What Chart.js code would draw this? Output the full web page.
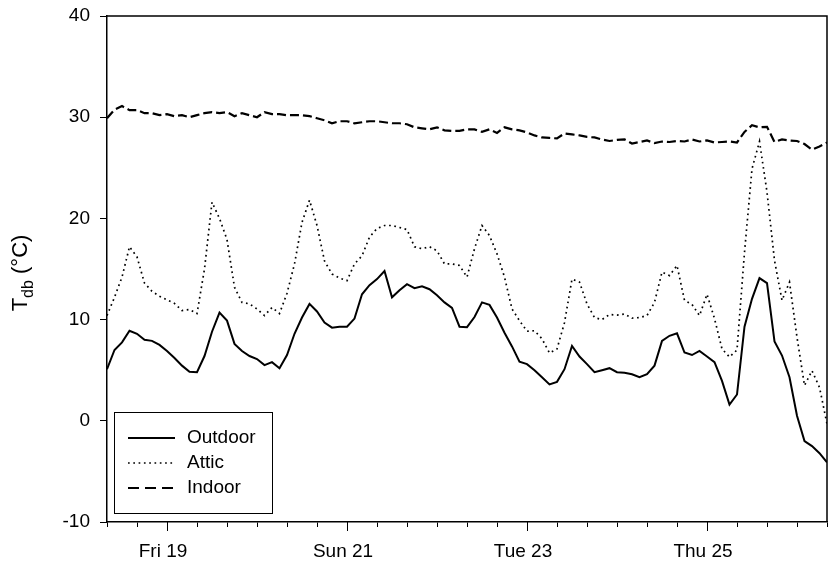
<!DOCTYPE html>
<html>
<head>
<meta charset="utf-8">
<title>Tdb</title>
<script src="https://cdn.jsdelivr.net/npm/chart.js@4.4.1/dist/chart.umd.min.js"></script>
<style>
  html, body { margin: 0; padding: 0; background: #fff; }
  #wrap { width: 833px; height: 566px; }
</style>
</head>
<body>
<div id="wrap"><canvas id="chart" width="833" height="566"></canvas></div>
<script>
// hours since Thu 18 08:00, one reading every 2 h
const hours = Array.from({ length: 97 }, (_, i) => i * 2);

const outdoor = [
  5.1, 7.0, 7.75, 8.9, 8.6, 8.0, 7.9, 7.5, 6.9, 6.2, 5.45, 4.85, 4.8, 6.4, 8.8, 10.7, 9.9, 7.6, 6.9, 6.4, 6.1, 5.5, 5.8, 5.2,
  6.5, 8.6, 10.2, 11.55, 10.8, 9.7, 9.2, 9.3, 9.3, 10.1, 12.5, 13.4, 14.0, 14.8, 12.2, 12.9, 13.5, 13.1, 13.3, 13.0, 12.4, 11.7, 11.15, 9.3,
  9.25, 10.25, 11.7, 11.45, 10.2, 8.7, 7.35, 5.85, 5.6, 5.0, 4.3, 3.6, 3.85, 5.1, 7.4, 6.35, 5.6, 4.8, 5.0, 5.2, 4.8, 4.75, 4.6, 4.3,
  4.6, 5.45, 7.9, 8.4, 8.65, 6.75, 6.5, 6.9, 6.35, 5.8, 3.95, 1.6, 2.6, 9.3, 12.05, 14.1, 13.6, 7.85, 6.45, 4.3, 0.5, -2.0, -2.5, -3.2, -4.1
];

const attic = [
  10.4, 12.2, 14.2, 17.2, 16.2, 13.6, 12.8, 12.3, 11.95, 11.6, 10.9, 11.0, 10.6, 15.0, 21.6, 20.0, 17.9, 13.2, 11.7, 11.55, 11.05, 10.4, 11.2, 10.6,
  12.6, 15.5, 19.6, 21.8, 19.3, 15.8, 14.5, 14.1, 13.85, 15.5, 16.3, 18.15, 19.0, 19.3, 19.3, 19.1, 18.9, 17.2, 17.0, 17.2, 16.8, 15.5, 15.5, 15.35,
  14.2, 17.0, 19.3, 18.3, 16.5, 14.2, 11.05, 9.9, 8.85, 8.9, 8.1, 6.7, 7.1, 9.7, 14.0, 13.7, 11.55, 10.2, 10.0, 10.5, 10.45, 10.55, 10.15, 10.2,
  10.4, 11.7, 14.7, 14.35, 15.35, 11.9, 11.5, 10.4, 12.5, 10.1, 7.1, 6.3, 7.0, 16.65, 24.9, 27.6, 22.6, 15.85, 11.9, 13.7, 8.25, 3.5, 4.95, 3.3, -0.3
];

const indoor = [
  29.9, 30.75, 31.1, 30.7, 30.7, 30.4, 30.4, 30.2, 30.3, 30.1, 30.2, 30.0, 30.2, 30.4, 30.5, 30.4, 30.5, 30.1, 30.4, 30.2, 30.0, 30.5, 30.3, 30.3,
  30.2, 30.2, 30.2, 30.1, 29.9, 29.7, 29.4, 29.6, 29.6, 29.4, 29.5, 29.6, 29.6, 29.5, 29.4, 29.4, 29.3, 29.0, 28.9, 28.8, 29.0, 28.7, 28.65, 28.65,
  28.8, 28.8, 28.55, 28.8, 28.45, 29.0, 28.8, 28.7, 28.5, 28.2, 28.0, 27.95, 27.9, 28.4, 28.3, 28.2, 28.05, 28.0, 27.8, 27.65, 27.75, 27.8, 27.4, 27.55,
  27.7, 27.45, 27.6, 27.55, 27.65, 27.6, 27.8, 27.6, 27.7, 27.5, 27.55, 27.6, 27.5, 28.55, 29.2, 29.0, 29.05, 27.55, 27.8, 27.7, 27.65, 27.35, 26.8, 27.1, 27.5
];

// x ticks every 8 h, labels on every second day at midnight
const xTickHours = [0, 8, 16, 24, 32, 40, 48, 56, 64, 72, 80, 88, 96, 104, 112, 120, 128, 136, 144, 152, 160, 168, 176, 184, 192];
const dayLabels = { 16: 'Fri 19', 64: 'Sun 21', 112: 'Tue 23', 160: 'Thu 25' };
const yTicks = [-10, 0, 10, 20, 30, 40];

const FONT = 'Arial, "Liberation Sans", sans-serif';
Chart.defaults.font.family = FONT;
Chart.defaults.color = '#000';

const toXY = arr => arr.map((v, i) => ({ x: hours[i], y: v }));

// box round the plot + longer ticks under the day labels
const framePlugin = {
  id: 'frame',
  afterDraw(chart) {
    const { ctx, chartArea: a } = chart;
    const xs = chart.scales.x;
    ctx.save();
    ctx.strokeStyle = '#000';
    ctx.lineWidth = 1.5;
    ctx.beginPath();
    ctx.moveTo(a.left, a.top);
    ctx.lineTo(a.right, a.top);
    ctx.lineTo(a.right, a.bottom);
    ctx.stroke();
    ctx.lineWidth = 1;
    Object.keys(dayLabels).forEach(h => {
      const px = Math.round(xs.getPixelForValue(+h)) + 0.5;
      ctx.beginPath();
      ctx.moveTo(px, a.bottom);
      ctx.lineTo(px, a.bottom + 9);
      ctx.stroke();
    });
    ctx.restore();
  }
};

// y title with subscript
const yTitlePlugin = {
  id: 'yTitle',
  afterDraw(chart) {
    const { ctx, chartArea: a } = chart;
    const big = '22px ' + FONT, small = '16px ' + FONT;
    ctx.save();
    ctx.fillStyle = '#000';
    ctx.font = big;
    const wT = ctx.measureText('T').width;
    const wRest = ctx.measureText(' (\u00B0C)').width;
    ctx.font = small;
    const wSub = ctx.measureText('db').width;
    const total = wT + wSub + wRest;
    ctx.translate(27, (a.top + a.bottom) / 2 + 4);
    ctx.rotate(-Math.PI / 2);
    ctx.textBaseline = 'alphabetic';
    let x = -total / 2;
    ctx.font = big;
    ctx.fillText('T', x, 0);
    x += wT;
    ctx.font = small;
    ctx.fillText('db', x, 6);
    x += wSub;
    ctx.font = big;
    ctx.fillText(' (\u00B0C)', x, 0);
    ctx.restore();
  }
};

// legend box inside the plot, bottom left
const legendPlugin = {
  id: 'boxLegend',
  afterDraw(chart) {
    const { ctx, chartArea: a } = chart;
    const left = a.left + 7, top = a.bottom - 110, w = 158, h = 101;
    ctx.save();
    ctx.fillStyle = '#fff';
    ctx.fillRect(left, top, w, h);
    ctx.strokeStyle = '#000';
    ctx.lineWidth = 1;
    ctx.strokeRect(left + 0.5, top + 0.5, w, h);
    ctx.font = '19px ' + FONT;
    ctx.textBaseline = 'middle';
    chart.data.datasets.forEach((ds, i) => {
      const y = top + 26 + i * 25;
      ctx.beginPath();
      ctx.setLineDash(ds.legendDash || []);
      ctx.lineWidth = ds.borderWidth;
      ctx.moveTo(left + 14, y);
      ctx.lineTo(left + 61, y);
      ctx.stroke();
      ctx.setLineDash([]);
      ctx.fillStyle = '#000';
      ctx.fillText(ds.label, left + 73, y);
    });
    ctx.restore();
  }
};

new Chart(document.getElementById('chart'), {
  type: 'line',
  data: {
    datasets: [
      { label: 'Outdoor', data: toXY(outdoor), borderColor: '#000', borderWidth: 2, pointRadius: 0, tension: 0, legendDash: [] },
      { label: 'Attic', data: toXY(attic), borderColor: '#000', borderWidth: 1.7, borderDash: [1.7, 3.6], pointRadius: 0, tension: 0, legendDash: [1.7, 3.6] },
      { label: 'Indoor', data: toXY(indoor), borderColor: '#000', borderWidth: 2.2, borderDash: [9, 4], pointRadius: 0, tension: 0, legendDash: [11, 6] }
    ]
  },
  options: {
    responsive: false,
    animation: false,
    events: [],
    layout: { padding: { top: 16, right: 6, left: 0, bottom: 0 } },
    plugins: { legend: { display: false }, tooltip: { enabled: false } },
    scales: {
      x: {
        type: 'linear',
        min: 0,
        max: 192,
        afterBuildTicks: s => { s.ticks = xTickHours.map(v => ({ value: v })); },
        afterFit: s => { s.height = 44; s.paddingLeft = 0; s.paddingRight = 0; },
        ticks: {
          autoSkip: false,
          maxRotation: 0,
          padding: 13,
          labelOffset: -4,
          font: { size: 19 },
          callback: v => dayLabels[v] || ''
        },
        grid: { drawOnChartArea: false, tickLength: 5, tickColor: '#000', tickWidth: 1 },
        border: { color: '#000', width: 1.5 }
      },
      y: {
        min: -10,
        max: 40,
        afterBuildTicks: s => { s.ticks = yTicks.map(v => ({ value: v })); },
        afterFit: s => { s.width = 107; s.paddingTop = 0; s.paddingBottom = 0; },
        ticks: { padding: 10, font: { size: 19 } },
        grid: { drawOnChartArea: false, tickLength: 7, tickColor: '#000', tickWidth: 1 },
        border: { color: '#000', width: 1.5 }
      }
    }
  },
  plugins: [framePlugin, yTitlePlugin, legendPlugin]
});
</script>
</body>
</html>
